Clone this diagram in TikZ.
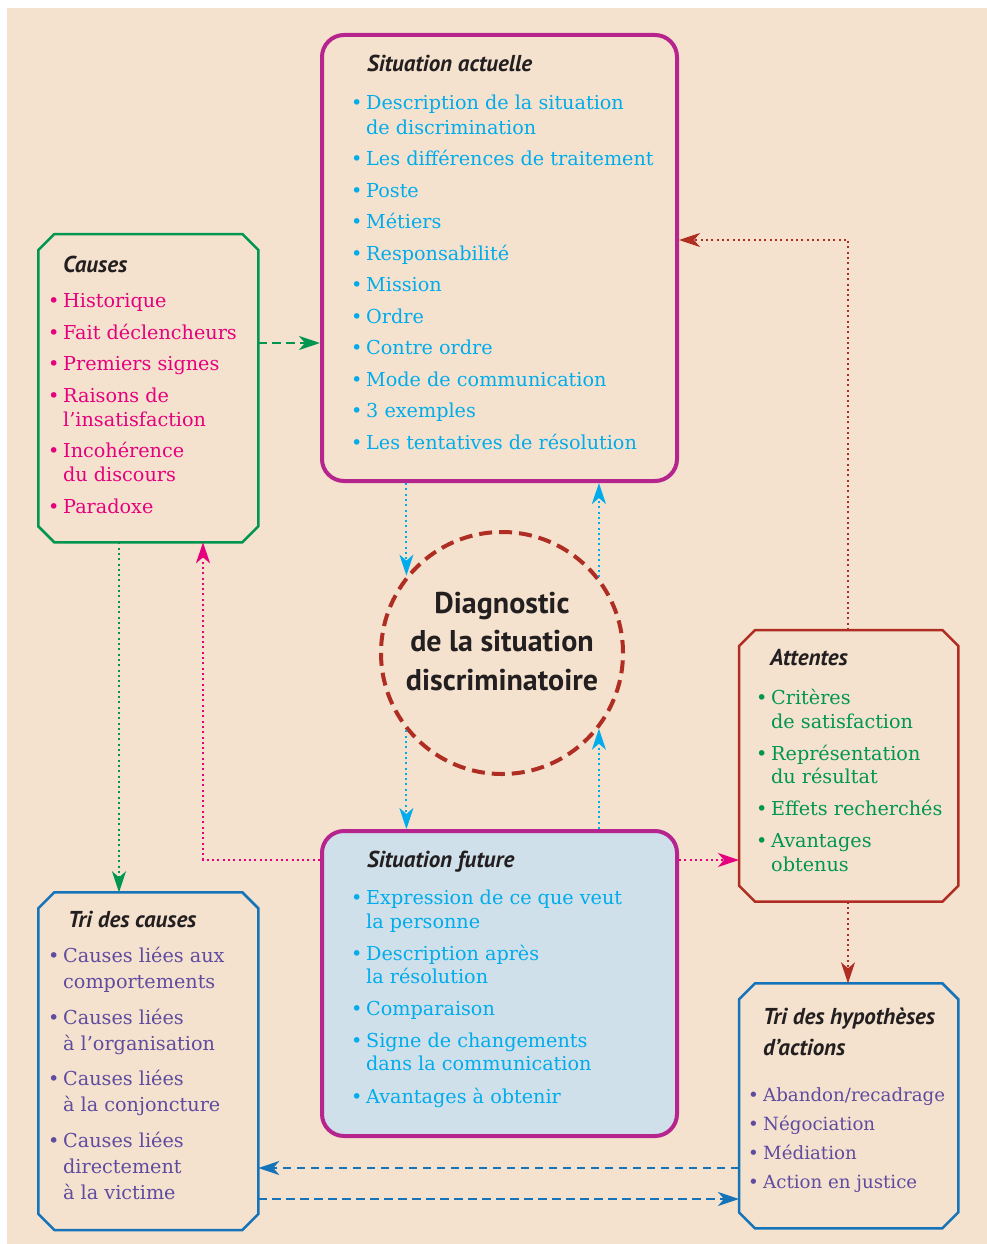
\documentclass[tikz,border=0pt]{standalone}
\usepackage{fontspec}
\setmainfont{DejaVu Serif}
\newfontfamily\hfont{PT Sans}
\usetikzlibrary{arrows.meta,fit}
\definecolor{bg}{RGB}{244,226,206}
\definecolor{mag}{RGB}{182,37,142}
\definecolor{cyant}{RGB}{0,172,236}
\definecolor{pinkt}{RGB}{230,0,126}
\definecolor{greent}{RGB}{0,150,80}
\definecolor{purplet}{RGB}{95,75,160}
\definecolor{dred}{RGB}{175,45,35}
\definecolor{blueb}{RGB}{20,115,185}
\definecolor{lblue}{RGB}{207,224,234}
\definecolor{headc}{RGB}{35,31,32}
\newcommand\bu{\makebox[15pt][l]{•}}
\newcommand\ind{\hspace*{15pt}}
\newcommand\octo[2]{%
  \draw[#2,line width=2.5pt,line join=miter]
    ([xshift=16pt]#1.north west) -- ([xshift=-16pt]#1.north east)
    -- ([yshift=-16pt]#1.north east) -- ([yshift=16pt]#1.south east)
    -- ([xshift=-16pt]#1.south east) -- ([xshift=16pt]#1.south west)
    -- ([yshift=16pt]#1.south west) -- ([yshift=-16pt]#1.north west) -- cycle;}
\begin{document}
\begin{tikzpicture}[x=1pt,y=-1pt,
  sitbox/.style={draw=mag, line width=4pt, rounded corners=22pt, inner sep=0pt},
  octbox/.style={inner sep=0pt, outer sep=0pt},
  head/.style={anchor=base west, inner sep=0pt, align=left, text=headc,
    font=\hfont\bfseries\itshape\fontsize{23}{31}\selectfont},
  body/.style={anchor=base west, inner sep=0pt, align=left},
  dotline/.style={line width=2pt, dash pattern=on 2pt off 3.3pt},
  dashline/.style={line width=2.5pt, dash pattern=on 8.5pt off 5.5pt},
  arr/.style={-{Stealth[length=21pt,width=14pt,inset=6pt]}}]
\useasboundingbox (0,0) rectangle (987,1244);
\fill[white] (0,0) rectangle (987,1244);
\fill[bg] (7,8) rectangle (987,1244);

% boxes
\node[sitbox, fit={(322,35) (677,481)}] (sa) {};
\node[sitbox, fill=lblue, fit={(322,831) (677,1136)}] (sf) {};
\node[octbox, fit={(38.3,234) (258.3,542.3)}] (causes) {};
\node[octbox, fit={(739,630) (958.3,901.7)}] (att) {};
\node[octbox, fit={(38.3,892.3) (258.3,1230)}] (tric) {};
\node[octbox, fit={(739,983.3) (958.3,1228.3)}] (trih) {};
\octo{causes}{greent}
\octo{att}{dred}
\octo{tric}{blueb}
\octo{trih}{blueb}

% circle
\node[circle, draw=dred, line width=4pt, dash pattern=on 13pt off 7pt,
  minimum size=242pt, inner sep=0pt] (diag) at (502,653) {};
\node[anchor=base, inner sep=0pt, align=center, text=headc,
  font=\hfont\bfseries\fontsize{30}{38.5}\selectfont] (diagt) at (502,690)
  {Diagnostic\\de la situation\\discriminatoire};

% headings
\node[head] (hsa) at (367,72) {Situation actuelle};
\node[head] (hcauses) at (63,272) {Causes};
\node[head] (hatt) at (770,665) {Attentes};
\node[head] (hsf) at (367,867) {Situation future};
\node[head] (htric) at (68,927) {Tri des causes};
\node[head] (htrih) at (763,1055) {Tri des hypothèses\\d’actions};

% body texts (anchored at the baseline of their last line)
\node[body, text=cyant, font=\fontsize{19.2}{24.5}\selectfont] (tsa) at (351,449)
{\bu Description de la situation\\
 \ind de discrimination\\[7pt]
 \bu Les différences de traitement\\[7pt]
 \bu Poste\\[7pt]
 \bu Métiers\\[7pt]
 \bu Responsabilité\\[7pt]
 \bu Mission\\[7pt]
 \bu Ordre\\[7pt]
 \bu Contre ordre\\[7pt]
 \bu Mode de communication\\[7pt]
 \bu 3 exemples\\[7pt]
 \bu Les tentatives de résolution};

\node[body, text=pinkt, font=\fontsize{19.2}{23.5}\selectfont] (tcauses) at (48,513)
{\bu Historique\\[8.2pt]
 \bu Fait déclencheurs\\[8.2pt]
 \bu Premiers signes\\[8.2pt]
 \bu Raisons de\\
 \ind l’insatisfaction\\[8.2pt]
 \bu Incohérence\\
 \ind du discours\\[8.2pt]
 \bu Paradoxe};

\node[body, text=greent, font=\fontsize{19.2}{23.5}\selectfont] (tatt) at (756,871)
{\bu Critères\\
 \ind de satisfaction\\[8.5pt]
 \bu Représentation\\
 \ind du résultat\\[8.5pt]
 \bu Effets recherchés\\[8.5pt]
 \bu Avantages\\
 \ind obtenus};

\node[body, text=cyant, font=\fontsize{19.2}{23.3}\selectfont] (tsf) at (351,1103)
{\bu Expression de ce que veut\\
 \ind la personne\\[8.8pt]
 \bu Description après\\
 \ind la résolution\\[8.8pt]
 \bu Comparaison\\[8.8pt]
 \bu Signe de changements\\
 \ind dans la communication\\[8.8pt]
 \bu Avantages à obtenir};

\node[body, text=purplet, font=\fontsize{19.2}{25.8}\selectfont] (ttric) at (48,1199)
{\bu Causes liées aux\\
 \ind comportements\\[10pt]
 \bu Causes liées\\
 \ind à l’organisation\\[10pt]
 \bu Causes liées\\
 \ind à la conjoncture\\[10pt]
 \bu Causes liées\\
 \ind directement\\
 \ind à la victime};

\node[body, text=purplet, font=\fontsize{18.2}{28.7}\selectfont] (ttrih) at (748,1188)
{\bu Abandon/recadrage\\
 \bu Négociation\\
 \bu Médiation\\
 \bu Action en justice};

% connectors
\coordinate (g2) at (0,343);
\coordinate (rc) at (848,240);
\coordinate (pc) at (203,860);
\coordinate (gc) at (119,0);
\coordinate (b1) at (0,1168);
\coordinate (b2) at (0,1199);

\draw[dashline, greent, arr] (causes.east |- g2) -- (sa.west |- g2);
\draw[dotline, cyant, arr] (sa.south -| diag.141.7) -- (diag.141.7);
\draw[dotline, cyant, arr] (diag.38.3) -- (sa.south -| diag.38.3);
\draw[dotline, cyant, arr] (diag.-141.7) -- (sf.north -| diag.-141.7);
\draw[dotline, cyant, arr] (sf.north -| diag.-38.3) -- (diag.-38.3);
\draw[dotline, dred, arr] (att.north -| rc) |- (sa.east |- rc);
\draw[dotline, pinkt, arr] (sf.west |- pc) -| (causes.south -| pc);
\draw[dotline, pinkt, arr] (sf.east |- pc) -- (att.west |- pc);
\draw[dotline, greent, arr] (causes.south -| gc) -- (tric.north -| gc);
\draw[dotline, dred, arr] (att.south -| rc) -- (trih.north -| rc);
\draw[dashline, blueb, arr] (trih.west |- b1) -- (tric.east |- b1);
\draw[dashline, blueb, arr] (tric.east |- b2) -- (trih.west |- b2);
\end{tikzpicture}
\end{document}
